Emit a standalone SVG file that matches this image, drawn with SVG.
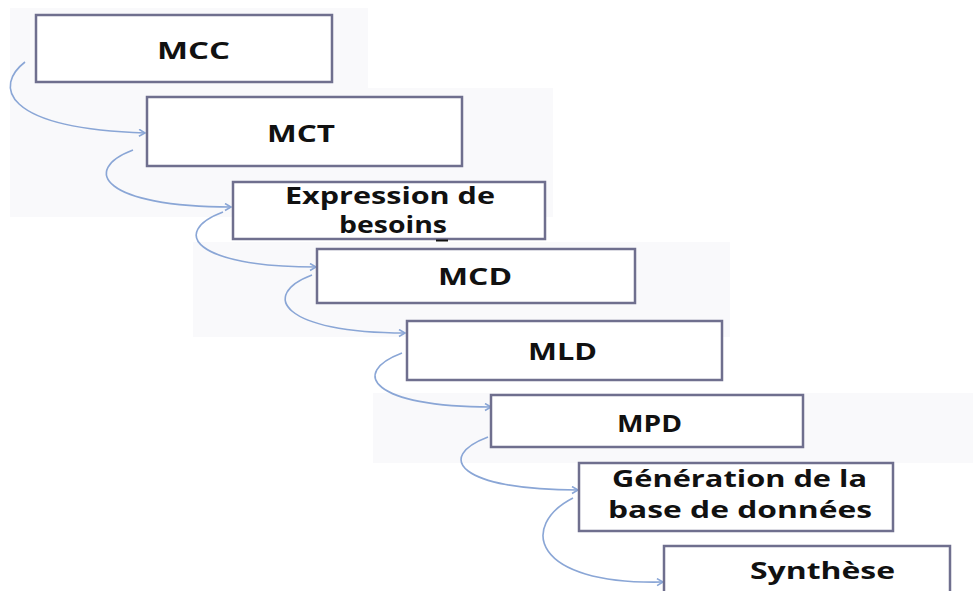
<svg xmlns="http://www.w3.org/2000/svg" width="973" height="591" viewBox="0 0 973 591">
<style>
.bg{fill:#f9f9fb}
.box{fill:#ffffff;stroke:#6f6f8e;stroke-width:2.5}
.lbl{font-family:"Open Sans","Liberation Sans",sans-serif;font-weight:700;font-size:23px;fill:#111111}
.con{fill:none;stroke:#8aa6d6;stroke-width:1.6}
</style>
<defs>
<marker id="arr" markerUnits="userSpaceOnUse" markerWidth="10" markerHeight="10" refX="7" refY="4" orient="auto">
<path d="M1,0.5 L7,4 L1,7.5" fill="none" stroke="#8aa6d6" stroke-width="1.6"/>
</marker>
</defs>
<rect width="973" height="591" fill="#ffffff"/>
<g id="background">
<rect class="bg" x="10" y="8" width="358" height="82"/>
<rect class="bg" x="10" y="88" width="543" height="129"/>
<rect class="bg" x="193" y="242" width="537" height="95"/>
<rect class="bg" x="373" y="393" width="600" height="70"/>
</g>
<g id="connectors">
<path class="con" marker-end="url(#arr)" d="M25,62 C-5,85 0,128 145,133"/>
<path class="con" marker-end="url(#arr)" d="M133,150 C80,170 103,207 231,207"/>
<path class="con" marker-end="url(#arr)" d="M223,212 C170,232 193,267 316,267"/>
<path class="con" marker-end="url(#arr)" d="M312,275 C259,295 282,333 405,333"/>
<path class="con" marker-end="url(#arr)" d="M402,353 C349,373 372,407 491,407"/>
<path class="con" marker-end="url(#arr)" d="M488,437 C435,457 458,490 578,490"/>
<path class="con" marker-end="url(#arr)" d="M573,498 C520,525 530,585 663,582"/>
</g>
<g id="mcc">
<rect class="box" x="36" y="15" width="296" height="67"/>
<text class="lbl" x="157" y="59" textLength="73" lengthAdjust="spacingAndGlyphs">MCC</text>
</g>
<g id="mct">
<rect class="box" x="147" y="97" width="315" height="69"/>
<text class="lbl" x="267" y="142" textLength="68" lengthAdjust="spacingAndGlyphs">MCT</text>
</g>
<g id="expression">
<rect class="box" x="233" y="182" width="312" height="57"/>
<text class="lbl" x="285" y="204" textLength="210" lengthAdjust="spacingAndGlyphs">Expression de</text>
<text class="lbl" x="339" y="233" textLength="108" lengthAdjust="spacingAndGlyphs">besoins</text>
<line x1="436" y1="240.5" x2="448" y2="240.5" stroke="#111111" stroke-width="2"/>
</g>
<g id="mcd">
<rect class="box" x="317" y="249" width="318" height="54"/>
<text class="lbl" x="438" y="285" textLength="74" lengthAdjust="spacingAndGlyphs">MCD</text>
</g>
<g id="mld">
<rect class="box" x="407" y="321" width="315" height="59"/>
<text class="lbl" x="528" y="360" textLength="69" lengthAdjust="spacingAndGlyphs">MLD</text>
</g>
<g id="mpd">
<rect class="box" x="491" y="395" width="312" height="52"/>
<text class="lbl" x="617" y="432" textLength="65" lengthAdjust="spacingAndGlyphs">MPD</text>
</g>
<g id="generation">
<rect class="box" x="579" y="463" width="314" height="68"/>
<text class="lbl" x="612" y="487" textLength="255" lengthAdjust="spacingAndGlyphs">Génération de la</text>
<text class="lbl" x="608" y="518" textLength="264" lengthAdjust="spacingAndGlyphs">base de données</text>
</g>
<g id="synthese">
<rect class="box" x="664" y="546" width="286" height="60"/>
<text class="lbl" x="750" y="579" textLength="145" lengthAdjust="spacingAndGlyphs">Synthèse</text>
</g>
</svg>
